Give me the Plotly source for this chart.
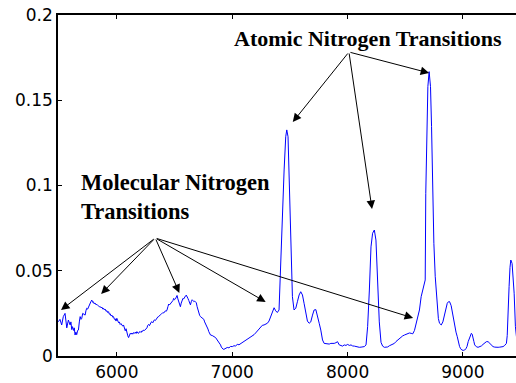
import plotly.graph_objects as go

wavenumber = [
    5493, 5507, 5522, 5536, 5551, 5559, 5566, 5580, 5588, 5595, 5602, 5609, 5616, 5624, 5631, 5638,
    5645, 5652, 5660, 5667, 5675, 5682, 5690, 5696, 5704, 5711, 5718, 5725, 5732, 5739, 5747, 5754,
    5762, 5768, 5776, 5783, 5790, 5797, 5805, 5812, 5820, 5827, 5835, 5841, 5849, 5856, 5864, 5870,
    5878, 5885, 5892, 5899, 5907, 5914, 5921, 5928, 5935, 5942, 5950, 5957, 5964, 5971, 5979, 5986,
    5993, 6000, 6008, 6015, 6022, 6029, 6036, 6044, 6051, 6058, 6065, 6073, 6080, 6087, 6095, 6102,
    6109, 6116, 6124, 6131, 6138, 6145, 6152, 6160, 6167, 6174, 6181, 6189, 6196, 6203, 6210, 6218,
    6225, 6232, 6240, 6247, 6254, 6261, 6268, 6276, 6283, 6290, 6297, 6305, 6312, 6319, 6326, 6334,
    6341, 6348, 6356, 6363, 6370, 6377, 6385, 6392, 6399, 6406, 6414, 6421, 6428, 6435, 6443, 6450,
    6457, 6464, 6471, 6479, 6486, 6493, 6500, 6508, 6515, 6522, 6529, 6537, 6544, 6551, 6558, 6566,
    6573, 6580, 6587, 6595, 6602, 6609, 6616, 6624, 6631, 6638, 6645, 6653, 6660, 6667, 6675, 6682,
    6689, 6696, 6703, 6710, 6718, 6725, 6732, 6740, 6747, 6754, 6761, 6769, 6776, 6783, 6790, 6797,
    6805, 6812, 6827, 6841, 6856, 6870, 6885, 6899, 6906, 6913, 6921, 6928, 6943, 6957, 6972, 6986,
    7001, 7015, 7030, 7044, 7059, 7073, 7088, 7102, 7117, 7131, 7146, 7160, 7175, 7189, 7203, 7218,
    7232, 7247, 7261, 7276, 7290, 7305, 7319, 7334, 7348, 7363, 7377, 7391, 7406, 7420, 7435, 7450,
    7464, 7473, 7484, 7493, 7507, 7522, 7536, 7551, 7565, 7580, 7594, 7609, 7623, 7638, 7652, 7667,
    7681, 7696, 7710, 7725, 7739, 7754, 7768, 7783, 7797, 7812, 7826, 7841, 7855, 7870, 7884, 7899,
    7913, 7928, 7942, 7957, 7971, 7986, 8001, 8015, 8030, 8044, 8059, 8073, 8088, 8102, 8117, 8131,
    8145, 8160, 8174, 8189, 8203, 8217, 8232, 8246, 8261, 8275, 8290, 8304, 8319, 8333, 8348, 8362,
    8377, 8391, 8406, 8420, 8435, 8449, 8464, 8478, 8493, 8507, 8522, 8536, 8551, 8565, 8580, 8594,
    8609, 8623, 8638, 8649, 8661, 8673, 8678, 8687, 8696, 8707, 8719, 8728, 8736, 8748, 8760, 8769,
    8777, 8787, 8797, 8812, 8826, 8838, 8847, 8864, 8874, 8884, 8898, 8913, 8928, 8940, 8951, 8961,
    8971, 8981, 8991, 9003, 9015, 9025, 9035, 9046, 9058, 9066, 9073, 9080, 9087, 9095, 9102, 9117,
    9131, 9145, 9160, 9174, 9189, 9203, 9218, 9232, 9247, 9261, 9276, 9290, 9305, 9319, 9334, 9348,
    9362, 9377, 9384, 9391, 9400, 9408, 9415, 9426, 9435, 9444, 9455, 9464,
]

intensity = [
    0.0201, 0.0215, 0.0182, 0.0231, 0.0250, 0.0200, 0.0165, 0.0211, 0.0190, 0.0182, 0.0200, 0.0155, 0.0172, 0.0150, 0.0165, 0.0123,
    0.0140, 0.0125, 0.0150, 0.0152, 0.0200, 0.0231, 0.0215, 0.0221, 0.0250, 0.0245, 0.0242, 0.0240, 0.0265, 0.0280, 0.0275, 0.0289,
    0.0300, 0.0305, 0.0320, 0.0328, 0.0315, 0.0318, 0.0305, 0.0310, 0.0300, 0.0303, 0.0298, 0.0299, 0.0288, 0.0290, 0.0282, 0.0287,
    0.0275, 0.0280, 0.0270, 0.0275, 0.0262, 0.0266, 0.0255, 0.0260, 0.0245, 0.0248, 0.0235, 0.0240, 0.0228, 0.0231, 0.0215, 0.0218,
    0.0205, 0.0221, 0.0200, 0.0195, 0.0200, 0.0185, 0.0190, 0.0182, 0.0175, 0.0182, 0.0165, 0.0148, 0.0160, 0.0135, 0.0118, 0.0108,
    0.0125, 0.0133, 0.0128, 0.0135, 0.0128, 0.0137, 0.0133, 0.0140, 0.0132, 0.0143, 0.0135, 0.0133, 0.0142, 0.0143, 0.0138, 0.0148,
    0.0145, 0.0152, 0.0150, 0.0156, 0.0160, 0.0165, 0.0180, 0.0185, 0.0178, 0.0192, 0.0198, 0.0201, 0.0195, 0.0205, 0.0212, 0.0208,
    0.0215, 0.0225, 0.0230, 0.0231, 0.0238, 0.0242, 0.0245, 0.0250, 0.0255, 0.0252, 0.0258, 0.0265, 0.0262, 0.0270, 0.0290, 0.0305,
    0.0300, 0.0305, 0.0315, 0.0319, 0.0325, 0.0338, 0.0330, 0.0335, 0.0345, 0.0355, 0.0335, 0.0318, 0.0300, 0.0289, 0.0310, 0.0330,
    0.0338, 0.0335, 0.0348, 0.0352, 0.0357, 0.0350, 0.0338, 0.0325, 0.0315, 0.0300, 0.0318, 0.0330, 0.0325, 0.0319, 0.0322, 0.0319,
    0.0312, 0.0289, 0.0268, 0.0250, 0.0238, 0.0231, 0.0228, 0.0225, 0.0221, 0.0215, 0.0200, 0.0190, 0.0180, 0.0172, 0.0158, 0.0143,
    0.0130, 0.0123, 0.0120, 0.0113, 0.0108, 0.0094, 0.0080, 0.0065, 0.0052, 0.0045, 0.0040, 0.0039, 0.0045, 0.0050, 0.0048, 0.0056,
    0.0055, 0.0060, 0.0059, 0.0068, 0.0066, 0.0072, 0.0080, 0.0084, 0.0090, 0.0098, 0.0104, 0.0110, 0.0118, 0.0125, 0.0135, 0.0148,
    0.0158, 0.0168, 0.0180, 0.0182, 0.0188, 0.0192, 0.0205, 0.0235, 0.0265, 0.0283, 0.0265, 0.0255, 0.0270, 0.0540, 0.0856, 0.1091,
    0.1286, 0.1326, 0.1286, 0.1052, 0.0661, 0.0348, 0.0270, 0.0280, 0.0318, 0.0358, 0.0377, 0.0358, 0.0309, 0.0240, 0.0205, 0.0192,
    0.0200, 0.0240, 0.0270, 0.0272, 0.0240, 0.0192, 0.0152, 0.0094, 0.0074, 0.0072, 0.0074, 0.0070, 0.0074, 0.0072, 0.0074, 0.0078,
    0.0084, 0.0065, 0.0062, 0.0058, 0.0065, 0.0062, 0.0068, 0.0062, 0.0065, 0.0059, 0.0058, 0.0055, 0.0052, 0.0051, 0.0052, 0.0054,
    0.0055, 0.0065, 0.0172, 0.0387, 0.0640, 0.0720, 0.0739, 0.0680, 0.0450, 0.0200, 0.0080, 0.0058, 0.0051, 0.0052, 0.0053, 0.0060,
    0.0065, 0.0070, 0.0074, 0.0085, 0.0094, 0.0105, 0.0113, 0.0118, 0.0123, 0.0128, 0.0133, 0.0135, 0.0133, 0.0130, 0.0150, 0.0192,
    0.0230, 0.0270, 0.0348, 0.0380, 0.0407, 0.0446, 0.0954, 0.1345, 0.1580, 0.1668, 0.1580, 0.1345, 0.0954, 0.0661, 0.0465, 0.0360,
    0.0289, 0.0220, 0.0192, 0.0182, 0.0200, 0.0240, 0.0270, 0.0309, 0.0318, 0.0319, 0.0295, 0.0231, 0.0172, 0.0140, 0.0113, 0.0080,
    0.0055, 0.0042, 0.0035, 0.0033, 0.0035, 0.0042, 0.0055, 0.0085, 0.0113, 0.0130, 0.0133, 0.0128, 0.0113, 0.0085, 0.0065, 0.0054,
    0.0051, 0.0053, 0.0059, 0.0068, 0.0078, 0.0084, 0.0084, 0.0075, 0.0062, 0.0055, 0.0052, 0.0050, 0.0051, 0.0052, 0.0053, 0.0055,
    0.0062, 0.0074, 0.0120, 0.0211, 0.0407, 0.0520, 0.0563, 0.0543, 0.0460, 0.0368, 0.0172, 0.0113,
]

x_ticks = [6000, 7000, 8000, 9000]
y_ticks = [0, 0.05, 0.1, 0.15, 0.2]
y_tick_labels = ["0", "0.05", "0.1", "0.15", "0.2"]

atomic_label = "Atomic Nitrogen Transitions"
atomic_origin = (8012, 0.1783)
atomic_targets = [(7525, 0.1372), (8212, 0.0862), (8707, 0.1660)]

molecular_label = "Molecular Nitrogen<br>Transitions"
molecular_origin = (6333, 0.0692)
molecular_targets = [(5516, 0.0270), (5864, 0.0364), (6542, 0.0370), (7290, 0.0317), (8568, 0.0223)]

fig = go.Figure()
fig.add_trace(go.Scatter(x=wavenumber, y=intensity, mode="lines",
                         line=dict(color="#0000FF", width=1), showlegend=False))

annotations = []
for origin, targets in [(atomic_origin, atomic_targets), (molecular_origin, molecular_targets)]:
    for tx, ty in targets:
        annotations.append(dict(
            x=tx, y=ty, ax=origin[0], ay=origin[1], xref="x", yref="y", axref="x", ayref="y",
            text="", showarrow=True, arrowhead=2, arrowsize=1.7, arrowwidth=1, arrowcolor="black",
            standoff=0, startstandoff=0))

serif = "Liberation Serif, Times New Roman, serif"
annotations.append(dict(x=8177, y=0.1865, xref="x", yref="y", text="<b>" + atomic_label + "</b>",
                        showarrow=False, xanchor="center", yanchor="middle",
                        font=dict(family=serif, size=22, color="black")))
annotations.append(dict(x=5673, y=0.0933, xref="x", yref="y",
                        text="<b>Molecular Nitrogen</b><br><b>Transitions</b>",
                        showarrow=False, xanchor="left", yanchor="middle", align="left",
                        font=dict(family=serif, size=22.5, color="black")))

fig.update_layout(
    width=516, height=383,
    margin=dict(l=58, r=0, t=15, b=27),
    paper_bgcolor="white", plot_bgcolor="white",
    font=dict(family="DejaVu Sans, Arial, sans-serif", size=17, color="black"),
    annotations=annotations,
    xaxis=dict(range=[5490, 9460], tickvals=x_ticks, ticks="inside", ticklen=4,
               tickcolor="black", showline=True, linecolor="black", linewidth=1.5,
               mirror="allticks", showgrid=False, zeroline=False),
    yaxis=dict(range=[0, 0.2], tickvals=y_ticks, ticktext=y_tick_labels, ticks="inside",
               ticklen=4, tickcolor="black", showline=True, linecolor="black", linewidth=1.5,
               mirror=False, showgrid=False, zeroline=False),
)

fig.write_html("out.html")
